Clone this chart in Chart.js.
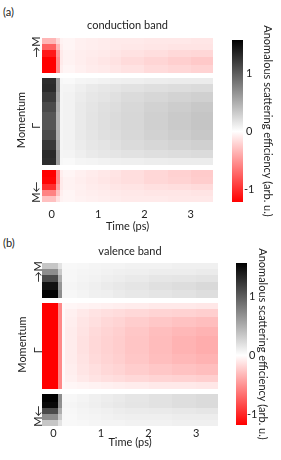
<!DOCTYPE html>
<html>
<head>
<meta charset="utf-8">
<script src="https://cdn.jsdelivr.net/npm/chart.js@4.4.1/dist/chart.umd.min.js"></script>
<style>
  body { margin: 0; background: #fff; width: 281px; height: 460px; position: relative; overflow: hidden; font-family: Lato, sans-serif; }
  .box { position: absolute; }
  .tag { position: absolute; left: 3px; font-size: 11px; color: #222; line-height: 13px; }
</style>
</head>
<body>
<div class="tag" style="top:5px">(a)</div>
<div class="box" style="left:0;top:0"><canvas id="heatA" width="216" height="235"></canvas></div>
<div class="box" style="left:228px;top:0"><canvas id="barA" width="53" height="235"></canvas></div>
<div class="tag" style="top:236px">(b)</div>
<div class="box" style="left:0;top:228px"><canvas id="heatB" width="221" height="232"></canvas></div>
<div class="box" style="left:232px;top:228px"><canvas id="barB" width="49" height="232"></canvas></div>
<script>
// time bin edges (ps) and momentum bin edges (M top = 1, Gamma = 0, M bottom = -1)
const timeEdges = [-0.25, 0.1, 0.17, 0.25, 0.5, 0.75, 1, 1.25, 1.5, 2, 2.5, 3, 3.5];
const momentumEdges = [1, 0.93, 0.85, 0.77, 0.67, 0.57, 0.51, 0.44, 0.34, 0.22, 0.1, -0.12, -0.24, -0.37, -0.46, -0.55, -0.61, -0.7, -0.78, -0.85, -0.93, -1];

const timeTicks = [0, 1, 2, 3];
const momentumTicks = [0.89, -0.07, -0.88];
const momentumLabels = ['\u2192M', '\u0393', 'M\u2190'];
const colorTicks = [-1, 0, 1];

// rows top -> bottom, columns follow timeEdges
const conductionValues = [
  [-0.35, -0.18, -0.06, -0.05, -0.07, -0.08, -0.09, -0.1, -0.1, -0.11, -0.11, -0.12],
  [-0.75, -0.35, -0.08, -0.05, -0.07, -0.08, -0.09, -0.1, -0.11, -0.12, -0.13, -0.13],
  [-1.1, -0.5, -0.1, -0.06, -0.08, -0.09, -0.1, -0.12, -0.14, -0.16, -0.18, -0.19],
  [-1.22, -0.55, -0.1, -0.06, -0.08, -0.1, -0.12, -0.14, -0.17, -0.2, -0.23, -0.26],
  [-1.22, -0.55, -0.08, -0.05, -0.07, -0.09, -0.1, -0.12, -0.14, -0.17, -0.19, -0.21],
  [0, 0, 0, 0, 0, 0, 0, 0, 0, 0, 0, 0],
  [1.3, 0.6, 0.05, 0.04, 0.06, 0.07, 0.08, 0.09, 0.1, 0.11, 0.12, 0.12],
  [1.32, 0.6, 0.06, 0.07, 0.1, 0.13, 0.15, 0.16, 0.18, 0.2, 0.21, 0.22],
  [1.22, 0.55, 0.06, 0.08, 0.12, 0.15, 0.17, 0.19, 0.22, 0.25, 0.27, 0.29],
  [1.12, 0.5, 0.06, 0.08, 0.13, 0.16, 0.19, 0.21, 0.24, 0.28, 0.31, 0.34],
  [1.05, 0.47, 0.06, 0.08, 0.13, 0.17, 0.2, 0.22, 0.25, 0.29, 0.33, 0.36],
  [1.12, 0.5, 0.06, 0.08, 0.13, 0.16, 0.19, 0.21, 0.24, 0.28, 0.31, 0.34],
  [1.24, 0.55, 0.06, 0.08, 0.12, 0.15, 0.17, 0.19, 0.22, 0.25, 0.27, 0.29],
  [1.32, 0.6, 0.06, 0.07, 0.1, 0.13, 0.15, 0.16, 0.18, 0.2, 0.21, 0.22],
  [1.3, 0.6, 0.05, 0.04, 0.06, 0.07, 0.08, 0.09, 0.1, 0.11, 0.12, 0.12],
  [0, 0, 0, 0, 0, 0, 0, 0, 0, 0, 0, 0],
  [-1.22, -0.55, -0.08, -0.05, -0.07, -0.09, -0.11, -0.13, -0.16, -0.19, -0.22, -0.25],
  [-1.2, -0.55, -0.1, -0.06, -0.08, -0.1, -0.12, -0.14, -0.16, -0.19, -0.21, -0.24],
  [-1.0, -0.45, -0.1, -0.06, -0.07, -0.09, -0.1, -0.12, -0.13, -0.15, -0.16, -0.17],
  [-0.6, -0.3, -0.08, -0.05, -0.07, -0.08, -0.09, -0.1, -0.11, -0.12, -0.12, -0.13],
  [-0.3, -0.15, -0.06, -0.05, -0.06, -0.07, -0.08, -0.09, -0.1, -0.1, -0.11, -0.11],
];

const valenceValues = [
  [0.35, 0.17, 0.04, 0.04, 0.05, 0.06, 0.07, 0.07, 0.08, 0.08, 0.09, 0.09],
  [0.7, 0.33, 0.05, 0.05, 0.06, 0.07, 0.08, 0.09, 0.1, 0.11, 0.11, 0.12],
  [1.1, 0.5, 0.05, 0.05, 0.07, 0.08, 0.1, 0.11, 0.13, 0.15, 0.16, 0.17],
  [1.45, 0.65, 0.06, 0.06, 0.08, 0.1, 0.12, 0.14, 0.16, 0.19, 0.21, 0.23],
  [1.55, 0.7, 0.05, 0.05, 0.07, 0.09, 0.1, 0.12, 0.14, 0.16, 0.18, 0.2],
  [0, 0, 0, 0, 0, 0, 0, 0, 0, 0, 0, 0],
  [-1.2, -0.55, -0.03, -0.04, -0.05, -0.06, -0.07, -0.08, -0.09, -0.1, -0.1, -0.11],
  [-1.2, -0.55, -0.03, -0.07, -0.1, -0.13, -0.15, -0.16, -0.18, -0.2, -0.21, -0.22],
  [-1.2, -0.55, -0.03, -0.08, -0.12, -0.15, -0.18, -0.2, -0.23, -0.26, -0.28, -0.3],
  [-1.2, -0.55, -0.03, -0.09, -0.13, -0.17, -0.2, -0.22, -0.26, -0.3, -0.33, -0.35],
  [-1.2, -0.55, -0.03, -0.09, -0.14, -0.18, -0.21, -0.23, -0.27, -0.31, -0.35, -0.38],
  [-1.2, -0.55, -0.03, -0.09, -0.13, -0.17, -0.2, -0.22, -0.26, -0.3, -0.33, -0.35],
  [-1.2, -0.55, -0.03, -0.08, -0.12, -0.15, -0.18, -0.2, -0.23, -0.26, -0.28, -0.3],
  [-1.2, -0.55, -0.03, -0.07, -0.1, -0.13, -0.15, -0.16, -0.18, -0.2, -0.21, -0.22],
  [-1.2, -0.55, -0.03, -0.04, -0.05, -0.06, -0.07, -0.08, -0.09, -0.1, -0.1, -0.11],
  [0, 0, 0, 0, 0, 0, 0, 0, 0, 0, 0, 0],
  [1.55, 0.7, 0.05, 0.05, 0.07, 0.09, 0.11, 0.13, 0.15, 0.18, 0.2, 0.22],
  [1.5, 0.68, 0.06, 0.06, 0.08, 0.1, 0.12, 0.14, 0.16, 0.18, 0.2, 0.22],
  [1.1, 0.5, 0.05, 0.05, 0.07, 0.08, 0.09, 0.11, 0.12, 0.13, 0.14, 0.15],
  [0.7, 0.33, 0.05, 0.04, 0.06, 0.07, 0.08, 0.09, 0.1, 0.1, 0.11, 0.11],
  [0.35, 0.17, 0.04, 0.04, 0.05, 0.06, 0.07, 0.07, 0.08, 0.08, 0.09, 0.09],
];

const conductionRange = [-1.22, 1.58];
const valenceRange = [-1.18, 1.56];

const FONT = 'Lato';
const INK = '#222';

function colorFor(v, range) {
  if (v < 0) {
    const t = Math.min(1, v / range[0]);
    const c = Math.round(255 * (1 - t));
    return `rgb(255,${c},${c})`;
  }
  const t = Math.min(1, v / range[1]);
  const g = Math.round(255 * (1 - t));
  return `rgb(${g},${g},${g})`;
}

function cellPlugin(values, range) {
  return {
    id: 'cells',
    beforeDatasetsDraw(chart) {
      const { ctx, chartArea: a, scales: { x, y } } = chart;
      ctx.save();
      ctx.beginPath();
      ctx.rect(a.left, a.top, a.right - a.left, a.bottom - a.top);
      ctx.clip();
      values.forEach((row, r) => {
        const y0 = Math.round(y.getPixelForValue(momentumEdges[r]));
        const y1 = Math.round(y.getPixelForValue(momentumEdges[r + 1]));
        row.forEach((v, c) => {
          const x0 = Math.round(x.getPixelForValue(timeEdges[c]));
          const x1 = Math.round(x.getPixelForValue(timeEdges[c + 1]));
          ctx.fillStyle = colorFor(v, range);
          ctx.fillRect(x0, y0, x1 - x0, y1 - y0);
        });
      });
      ctx.restore();
    },
  };
}

function momentumLabelPlugin(offset) {
  return {
    id: 'momentumLabels',
    afterDraw(chart) {
      const { ctx, chartArea: a, scales: { y } } = chart;
      ctx.save();
      ctx.font = `11px ${FONT}`;
      ctx.fillStyle = INK;
      ctx.textAlign = 'center';
      ctx.textBaseline = 'middle';
      momentumTicks.forEach((k, i) => {
        ctx.save();
        ctx.translate(a.left - offset, y.getPixelForValue(k));
        ctx.rotate(-Math.PI / 2);
        ctx.fillText(momentumLabels[i], 0, 0);
        ctx.restore();
      });
      ctx.restore();
    },
  };
}

function heatChart(id, p) {
  return new Chart(document.getElementById(id), {
    type: 'scatter',
    data: { datasets: [] },
    options: {
      responsive: false,
      animation: false,
      layout: { padding: { left: 0, right: p.padRight, top: 0, bottom: 0 } },
      plugins: {
        legend: { display: false },
        tooltip: { enabled: false },
        title: {
          display: true,
          text: p.title,
          fullSize: false,
          color: INK,
          font: { family: FONT, size: 11, weight: 'normal' },
          padding: { top: p.titleTop, bottom: p.titleBottom },
        },
      },
      scales: {
        x: {
          type: 'linear',
          min: p.xRange[0],
          max: p.xRange[1],
          grid: { display: false, drawTicks: false },
          border: { display: false },
          afterBuildTicks: (s) => { s.ticks = timeTicks.map((v) => ({ value: v })); },
          afterFit: (s) => { s.height = p.xHeight; },
          ticks: { color: INK, font: { family: FONT, size: 11 }, padding: p.tickPad },
          title: {
            display: true,
            text: 'Time (ps)',
            color: INK,
            font: { family: FONT, size: 11 },
            padding: { top: 0, bottom: p.xTitlePad },
          },
        },
        y: {
          type: 'linear',
          min: -1,
          max: 1,
          grid: { display: false, drawTicks: false },
          border: { display: false },
          ticks: { display: false },
          afterFit: (s) => { s.width = 42; },
          title: {
            display: true,
            text: 'Momentum',
            color: INK,
            font: { family: FONT, size: 11 },
            padding: { top: p.yTitlePad, bottom: 0 },
          },
        },
      },
    },
    plugins: [cellPlugin(p.values, p.range), momentumLabelPlugin(p.labelOffset)],
  });
}

function colorbarChart(id, p) {
  const [lo, hi] = p.range;
  return new Chart(document.getElementById(id), {
    type: 'bar',
    data: {
      labels: ['scale'],
      datasets: [{
        data: [[lo, hi]],
        barPercentage: 1,
        categoryPercentage: 1,
        borderWidth: 0,
        backgroundColor: (c) => {
          const chart = c.chart;
          if (!chart.chartArea) return '#fff';
          const s = chart.scales.y;
          const g = chart.ctx.createLinearGradient(0, s.getPixelForValue(lo), 0, s.getPixelForValue(hi));
          g.addColorStop(0, colorFor(lo, p.range));
          g.addColorStop(-lo / (hi - lo), '#fff');
          g.addColorStop(1, colorFor(hi, p.range));
          return g;
        },
      }],
    },
    options: {
      responsive: false,
      animation: false,
      layout: { padding: { left: 4, right: 0, top: p.top, bottom: p.bottom } },
      plugins: { legend: { display: false }, tooltip: { enabled: false } },
      scales: {
        x: { display: false },
        y: {
          position: 'right',
          min: lo,
          max: hi,
          grid: { display: false, drawTicks: false },
          border: { display: false },
          afterBuildTicks: (s) => { s.ticks = colorTicks.map((v) => ({ value: v })); },
          afterFit: (s) => { s.width = p.axisWidth; },
          ticks: { color: INK, font: { family: FONT, size: 11 }, padding: p.tickPad, crossAlign: 'center' },
          title: {
            display: true,
            text: 'Anomalous scattering efficiency (arb. u.)',
            color: INK,
            font: { family: FONT, size: 11 },
            padding: { top: p.titlePad, bottom: 0 },
          },
        },
      },
    },
  });
}

heatChart('heatA', {
  title: 'conduction band', values: conductionValues, range: conductionRange,
  xRange: [-0.21, 3.48], padRight: 3, titleTop: 18.4, titleBottom: 6.4,
  xHeight: 33, tickPad: 6, xTitlePad: 2.4, yTitlePad: 14.4, labelOffset: 5.5,
});
colorbarChart('barA', { range: conductionRange, top: 40, bottom: 33, axisWidth: 38, tickPad: 1, titlePad: 6.9 });

heatChart('heatB', {
  title: 'valence band', values: valenceValues, range: valenceRange,
  xRange: [-0.24, 3.46], padRight: 3, titleTop: 17.1, titleBottom: 4.7,
  xHeight: 34, tickPad: 1, xTitlePad: 11.1, yTitlePad: 15.4, labelOffset: 4,
});
colorbarChart('barB', { range: valenceRange, top: 35, bottom: 35, axisWidth: 34, tickPad: 0, titlePad: 11.6 });
</script>
</body>
</html>
